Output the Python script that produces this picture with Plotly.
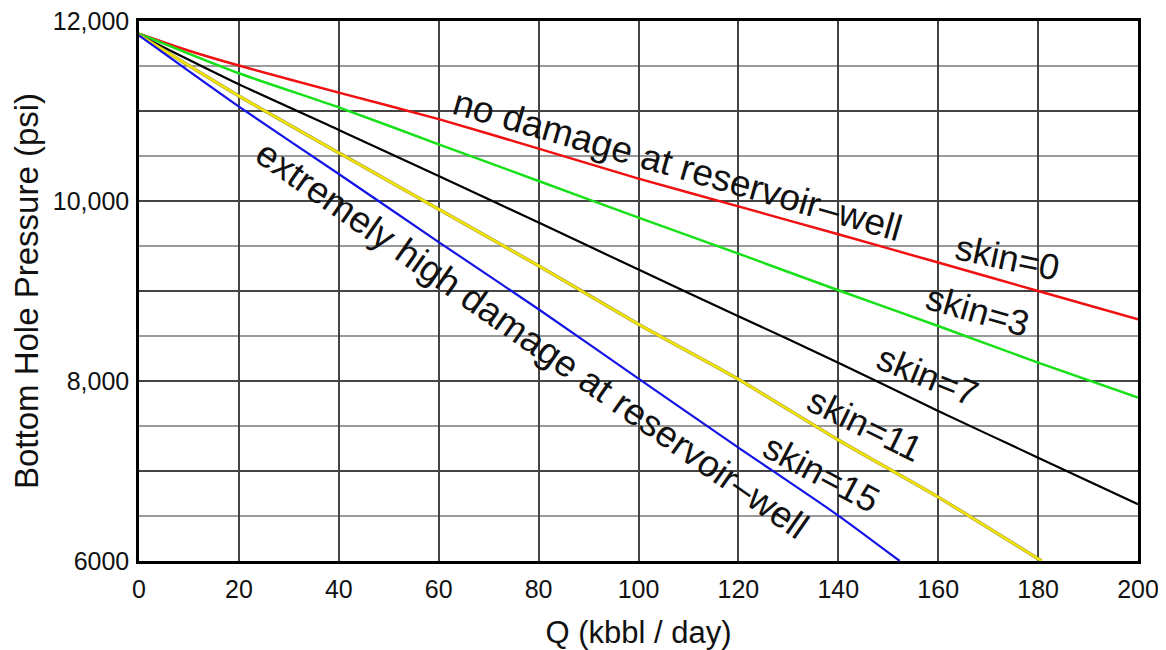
import plotly.graph_objects as go

# ---- data ----
q_red = [0, 10, 20, 40, 60, 80, 100, 120, 140, 160, 180, 200]
p_red = [11860, 11670, 11505, 11204, 10910, 10582, 10249, 9940, 9630, 9316, 9000, 8686]

q_green = [0, 20, 40, 60, 80, 100, 120, 140, 160, 180, 200]
p_green = [11860, 11419, 11040, 10630, 10222, 9815, 9415, 9008, 8611, 8204, 7816]

q_black = [0, 20, 40, 60, 80, 100, 120, 140, 160, 180, 200]
p_black = [11845, 11297, 10790, 10278, 9760, 9238, 8720, 8204, 7667, 7148, 6630]

q_yellow = [0, 20, 40, 60, 80, 100, 120, 140, 160, 180.7]
p_yellow = [11845, 11167, 10535, 9908, 9280, 8630, 8019, 7345, 6710, 6000]

q_blue = [0, 20, 40, 60, 80, 100, 120, 140, 152.3]
p_blue = [11840, 11049, 10300, 9544, 8797, 8026, 7260, 6505, 6000]

y_tickvals = [6000, 7000, 8000, 9000, 10000, 11000, 12000]
y_ticktext = ["6000", "", "8,000", "", "10,000", "", "12,000"]
x_tickvals = [0, 20, 40, 60, 80, 100, 120, 140, 160, 180, 200]

labels = ["no damage at reservoir–well", "extremely high damage at reservoir–well",
          "skin=0", "skin=3", "skin=7", "skin=11", "skin=15"]
label_x = [107.9, 78.6, 173.9, 167.8, 157.8, 145.3, 136.7]
label_y = [10390, 8460, 9374, 8778, 8056, 7519, 6974]
label_angle = [16, 35, 12, 16, 22, 26, 28]
label_size = [37, 37, 36, 36, 36, 36, 36]

FONT = "Liberation Sans, Arial, Helvetica, sans-serif"
TXT = "#111111"

fig = go.Figure()
fig.add_trace(go.Scatter(x=q_red, y=p_red, mode="lines", line=dict(color="#f01010", width=2.5, shape="spline", smoothing=0.6)))
fig.add_trace(go.Scatter(x=q_green, y=p_green, mode="lines", line=dict(color="#18e018", width=2.5, shape="spline", smoothing=0.6)))
fig.add_trace(go.Scatter(x=q_black, y=p_black, mode="lines", line=dict(color="#000000", width=2.2, shape="spline", smoothing=0.6)))
fig.add_trace(go.Scatter(x=q_yellow, y=p_yellow, mode="lines", line=dict(color="#a89c3a", width=3.4, shape="spline", smoothing=0.6)))
fig.add_trace(go.Scatter(x=q_yellow, y=p_yellow, mode="lines", line=dict(color="#f5e800", width=2.2, shape="spline", smoothing=0.6)))
fig.add_trace(go.Scatter(x=q_blue, y=p_blue, mode="lines", line=dict(color="#1414e6", width=2.2, shape="spline", smoothing=0.6)))

for t, x, y, a, s in zip(labels, label_x, label_y, label_angle, label_size):
    fig.add_annotation(x=x, y=y, xref="x", yref="y", text=t, textangle=a, showarrow=False,
                       font=dict(family=FONT, size=s, color=TXT))

# page body has an 8px margin; shrink the figure so the plot lands where the reference has it
fig.update_layout(
    width=1158, height=642,
    margin=dict(l=131, r=28, t=13, b=89),
    paper_bgcolor="white", plot_bgcolor="white",
    showlegend=False,
    font=dict(family=FONT, color=TXT),
)
fig.update_xaxes(
    range=[0, 200], tickvals=x_tickvals, ticks="", ticklabelstandoff=4, ticklabeloverflow="allow",
    tickfont=dict(size=25, family=FONT, color=TXT),
    showgrid=True, gridcolor="#444444", gridwidth=1.5,
    showline=True, linecolor="#000000", linewidth=2.5, mirror=True, zeroline=False,
    title=dict(text="Q (kbbl / day)", font=dict(size=31, family=FONT, color=TXT), standoff=20),
    automargin=False,
)
fig.update_yaxes(
    range=[6000, 12000], tickvals=y_tickvals, ticktext=y_ticktext, ticks="", ticklabelstandoff=2,
    ticklabeloverflow="allow",
    tickfont=dict(size=25, family=FONT, color=TXT),
    showgrid=True, gridcolor="#444444", gridwidth=1.5,
    minor=dict(dtick=500, showgrid=True, gridcolor="#9a9a9a", gridwidth=1.5),
    showline=True, linecolor="#000000", linewidth=2.5, mirror=True, zeroline=False,
    title=dict(text="Bottom Hole Pressure (psi)", font=dict(size=33, family=FONT, color=TXT), standoff=14),
    automargin=False,
)

fig.write_html("out.html")
